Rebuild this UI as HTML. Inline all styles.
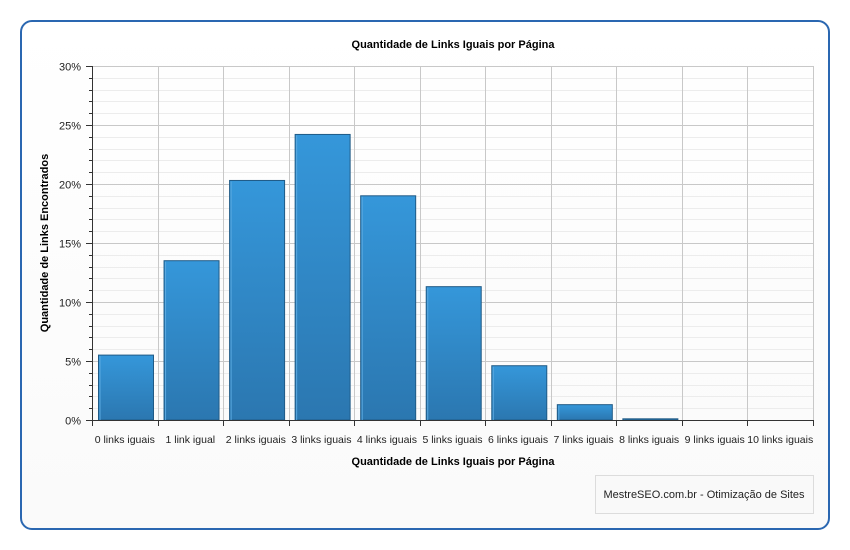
<!DOCTYPE html>
<html><head><meta charset="utf-8"><style>
html,body{margin:0;padding:0;background:#fff;}
svg{display:block;font-family:"Liberation Sans",Arial,sans-serif;}
</style></head><body>
<svg width="850" height="550" xmlns="http://www.w3.org/2000/svg">
<defs>
<linearGradient id="bar" x1="0" y1="0" x2="0" y2="1">
<stop offset="0" stop-color="#3597da"/><stop offset="1" stop-color="#2b77b0"/>
</linearGradient>
<linearGradient id="bg" x1="0" y1="0" x2="0" y2="1">
<stop offset="0" stop-color="#ffffff"/><stop offset="1" stop-color="#fafafa"/>
</linearGradient>
</defs>
<rect width="850" height="550" fill="#fff"/>
<rect x="21" y="21" width="808" height="508" rx="11" ry="11" fill="url(#bg)" stroke="#2a67b1" stroke-width="2"/>
<text x="453" y="48" font-size="11" font-weight="bold" text-anchor="middle" fill="#000">Quantidade de Links Iguais por Página</text>
<g id="grid"></g>
<g id="bars"></g>
<g id="axes"></g>
<text x="453" y="465" font-size="11" font-weight="bold" text-anchor="middle" fill="#000">Quantidade de Links Iguais por Página</text>
<text transform="translate(48,243) rotate(-90)" font-size="11" font-weight="bold" text-anchor="middle" fill="#000">Quantidade de Links Encontrados</text>
<rect x="595.5" y="475.5" width="218" height="38" fill="#f9f9f9" stroke="#dcdcdc"/>
<text x="704" y="498" font-size="11" text-anchor="middle" fill="#222">MestreSEO.com.br - Otimização de Sites</text>
<script>
var ns="http://www.w3.org/2000/svg";
function el(p,t,a,txt){var e=document.createElementNS(ns,t);for(var k in a)e.setAttribute(k,a[k]);if(txt!==undefined)e.textContent=txt;document.getElementById(p).appendChild(e);}
var x0=92,x1=813,y0=420,y1=66,pp=(y0-y1)/30,w=(x1-x0)/11;
for(var i=0;i<=30;i++){var y=Math.round(y0-i*pp)+0.5;
 el("grid","line",{x1:x0,x2:x1,y1:y,y2:y,stroke:i%5==0?"#c8c8c8":"#ececec","stroke-width":1});
 el("axes","line",{x1:x0-(i%5==0?6:3),x2:x0,y1:y,y2:y,stroke:"#333"});
 if(i%5==0)el("axes","text",{x:x0-11,y:y+4,"font-size":11,"text-anchor":"end",fill:"#222"},i+"%");}
for(var j=1;j<=11;j++){var x=Math.round(x0+j*w)+0.5;el("grid","line",{x1:x,x2:x,y1:y1,y2:y0,stroke:"#c8c8c8"});}
var v=[5.5,13.5,20.3,24.2,19,11.3,4.6,1.3,0.1,0,0];
var lab=["0 links iguais","1 link igual","2 links iguais","3 links iguais","4 links iguais","5 links iguais","6 links iguais","7 links iguais","8 links iguais","9 links iguais","10 links iguais"];
for(var i=0;i<11;i++){var bx=x0+i*w+6.5,h=v[i]*pp;
 if(h>0.5){el("bars","rect",{x:bx,y:y0-h,width:55,height:h,fill:"url(#bar)",stroke:"#1f5a86","stroke-width":1});
 el("bars","line",{x1:bx+1.5,x2:bx+1.5,y1:y0-h+1,y2:y0,stroke:"#5aa9e0"});}
 else if(v[i]>0) el("bars","line",{x1:bx,x2:bx+55,y1:y0-0.5,y2:y0-0.5,stroke:"#7a5a9a"});
 el("axes","text",{x:x0+(i+0.5)*w,y:y0+23,"font-size":10.5,"text-anchor":"middle",fill:"#222"},lab[i]);}
el("axes","line",{x1:x0+0.5,x2:x0+0.5,y1:y1,y2:y0,stroke:"#333"});
el("axes","line",{x1:x0,x2:x1,y1:y0+0.5,y2:y0+0.5,stroke:"#333"});
for(var j=0;j<=11;j++){var x=Math.round(x0+j*w)+0.5;el("axes","line",{x1:x,x2:x,y1:y0,y2:y0+6,stroke:"#333"});}
</script>
</svg>
</body></html>
